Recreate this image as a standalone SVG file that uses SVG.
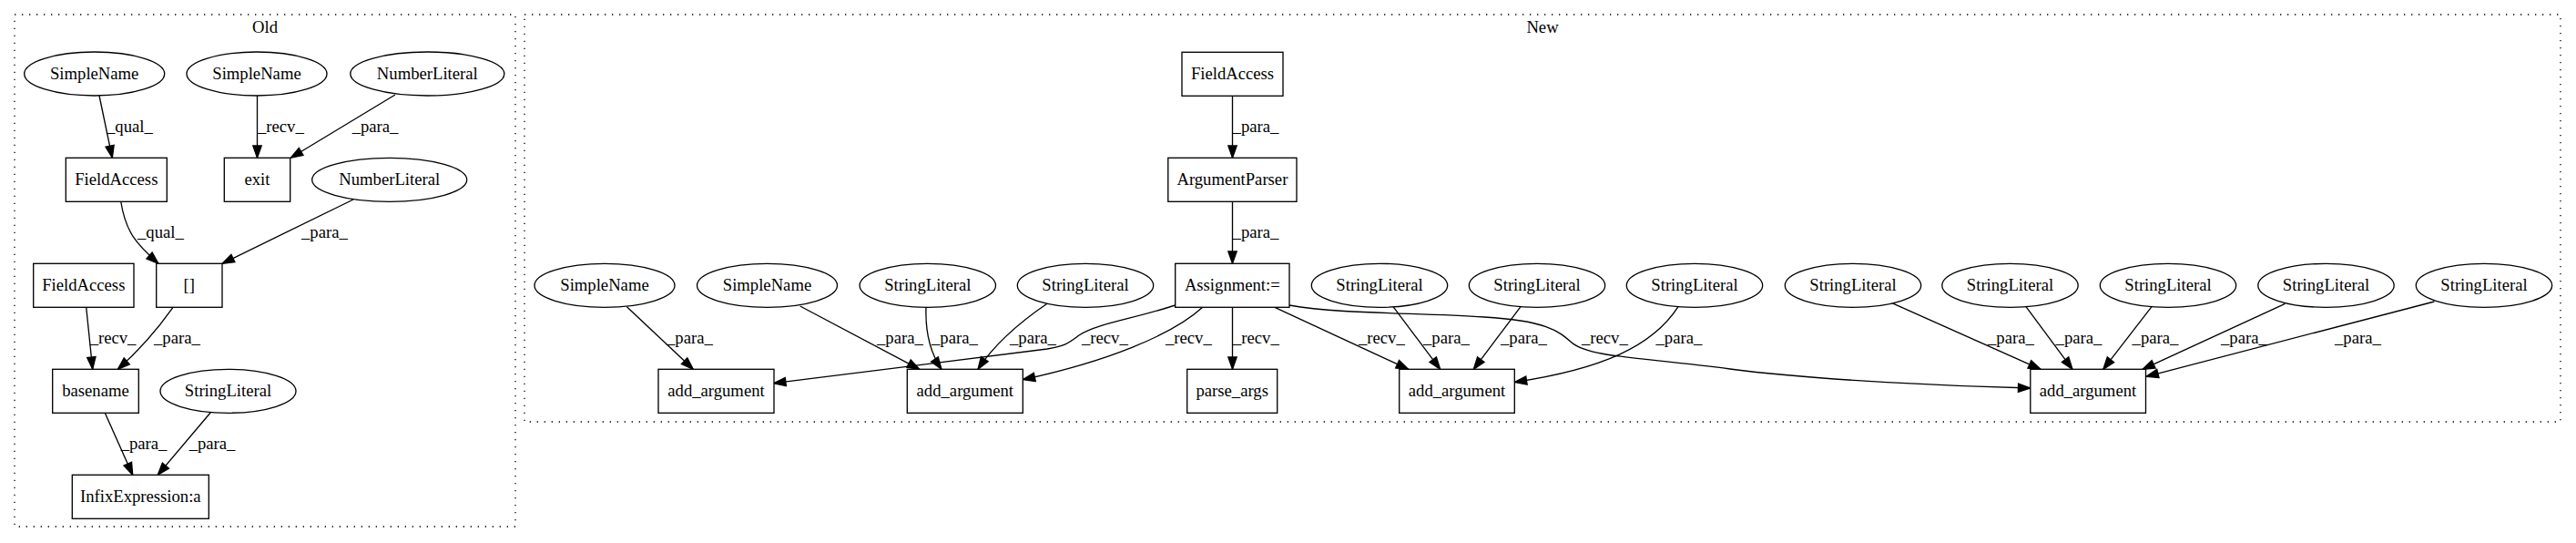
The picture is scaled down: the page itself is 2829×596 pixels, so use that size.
<svg xmlns="http://www.w3.org/2000/svg" width="2829" height="596" viewBox="0 0 2829 596">
<style>
text{font-family:"Liberation Serif","Times New Roman",serif;font-size:18.67px;fill:#000}
.n{text-anchor:middle}
.l{text-anchor:start}
.box{fill:#fff;stroke:#000;stroke-width:1.33}
.cl{fill:none;stroke:#000;stroke-width:1.33;stroke-dasharray:1.33,6.67}
.e{fill:none;stroke:#000;stroke-width:1.33;marker-end:url(#ah)}
</style>
<defs>
<marker id="ah" markerUnits="userSpaceOnUse" markerWidth="16" markerHeight="12" refX="13.3" refY="4.67" orient="auto" overflow="visible">
<path d="M0,0 L13.3,4.67 L0,9.33 Z" fill="#000" stroke="#000" stroke-width="1.33"/>
</marker>
</defs>
<rect x="0" y="0" width="2829" height="596" fill="#fff"/>
<g id="cluster-old">
<rect class="cl" x="16" y="16" width="550" height="562"/>
<text class="n" x="291" y="36">Old</text>
</g>
<g id="cluster-new">
<rect class="cl" x="576" y="16" width="2236" height="447"/>
<text class="n" x="1694" y="36">New</text>
</g>
<g id="connectors">
<path class="e" d="M109,105 L123.3,173.3"/>
<path class="e" d="M282.5,105 L282.5,173.3"/>
<path class="e" d="M434,104 L319.3,173.3"/>
<path class="e" d="M132.7,221 C138,255 150,268 174,289.3"/>
<path class="e" d="M388,219 L244,289.3"/>
<path class="e" d="M94.7,337.3 L101.7,405.3"/>
<path class="e" d="M190,337.3 C176,357 158,380 129.3,405.3"/>
<path class="e" d="M115.3,453.3 L145.7,521.3"/>
<path class="e" d="M231.3,452.7 L173.3,521.3"/>
<path class="e" d="M1353.5,105.3 L1353.5,173.3"/>
<path class="e" d="M1353.5,221.3 L1353.5,289.3"/>
<path class="e" d="M688.4,336.7 L761.3,405.3"/>
<path class="e" d="M878.7,336 L1009.8,405.3"/>
<path class="e" d="M1017,337 C1016,365 1022,388 1034,405.3"/>
<path class="e" d="M1150,333.3 C1118,355 1092,378 1074,405.3"/>
<path class="e" d="M1290.7,335 C1245,350 1205,355 1185,368 C1172,378 1168,380 1150,383 L849.6,420.7"/>
<path class="e" d="M1320.7,337.3 C1287,368 1215,397 1123.3,416.7"/>
<path class="e" d="M1353.5,337.3 L1353.5,405.3"/>
<path class="e" d="M1400,337.3 L1546.7,405.3"/>
<path class="e" d="M1416,335 C1470,345 1560,343 1630,348 C1700,352 1712,364 1726,376 C1745,392 1800,392 1900,405 C2000,418 2150,424 2229.8,426"/>
<path class="e" d="M1530,336.7 L1581.7,405.3"/>
<path class="e" d="M1670,336.7 L1618.3,405.3"/>
<path class="e" d="M1843,336.7 C1815,380 1760,405 1663.3,419.5"/>
<path class="e" d="M2077.3,332.3 L2241,405.3"/>
<path class="e" d="M2225,336.7 L2276,405.3"/>
<path class="e" d="M2363,336.7 L2309.8,405.3"/>
<path class="e" d="M2509.5,333.3 L2353,405.3"/>
<path class="e" d="M2673.4,331 L2357,413.3"/>
<text class="l" x="117" y="145">_qual_</text>
<text class="l" x="283" y="145">_recv_</text>
<text class="l" x="386.7" y="145">_para_</text>
<text class="l" x="151" y="261">_qual_</text>
<text class="l" x="331" y="261">_para_</text>
<text class="l" x="98.7" y="377">_recv_</text>
<text class="l" x="169" y="377">_para_</text>
<text class="l" x="132.7" y="493">_para_</text>
<text class="l" x="207.7" y="493">_para_</text>
<text class="l" x="1353.6" y="145">_para_</text>
<text class="l" x="1353.6" y="261">_para_</text>
<text class="l" x="732" y="377">_para_</text>
<text class="l" x="963" y="377">_para_</text>
<text class="l" x="1023" y="377">_para_</text>
<text class="l" x="1109" y="377">_para_</text>
<text class="l" x="1188" y="377">_recv_</text>
<text class="l" x="1280" y="377">_recv_</text>
<text class="l" x="1354" y="377">_recv_</text>
<text class="l" x="1492" y="377">_recv_</text>
<text class="l" x="1563" y="377">_para_</text>
<text class="l" x="1648" y="377">_para_</text>
<text class="l" x="1737" y="377">_recv_</text>
<text class="l" x="1818.5" y="377">_para_</text>
<text class="l" x="2183" y="377">_para_</text>
<text class="l" x="2257.6" y="377">_para_</text>
<text class="l" x="2341.6" y="377">_para_</text>
<text class="l" x="2439" y="377">_para_</text>
<text class="l" x="2564" y="377">_para_</text>
</g>
<g id="old-simplename-1"><ellipse class="box" cx="103.7" cy="81" rx="77" ry="24"/><text class="n" x="103.7" y="87">SimpleName</text></g>
<g id="old-simplename-2"><ellipse class="box" cx="282" cy="81" rx="77" ry="24"/><text class="n" x="282" y="87">SimpleName</text></g>
<g id="old-numberliteral-1"><ellipse class="box" cx="469.3" cy="81" rx="84.5" ry="24"/><text class="n" x="469.3" y="87">NumberLiteral</text></g>
<g id="old-fieldaccess-1"><rect class="box" x="72.3" y="173.3" width="111" height="48"/><text class="n" x="127.8" y="203">FieldAccess</text></g>
<g id="old-exit"><rect class="box" x="246.3" y="173.3" width="72.4" height="48"/><text class="n" x="282.5" y="203">exit</text></g>
<g id="old-numberliteral-2"><ellipse class="box" cx="427.7" cy="197.3" rx="85" ry="24"/><text class="n" x="427.7" y="203">NumberLiteral</text></g>
<g id="old-fieldaccess-2"><rect class="box" x="36.7" y="289.3" width="110.3" height="48"/><text class="n" x="91.8" y="319">FieldAccess</text></g>
<g id="old-index"><rect class="box" x="171.7" y="289.3" width="72.3" height="48"/><text class="n" x="207.8" y="319">[]</text></g>
<g id="old-basename"><rect class="box" x="57.7" y="405.3" width="94.6" height="48"/><text class="n" x="105" y="435">basename</text></g>
<g id="old-stringliteral"><ellipse class="box" cx="250.5" cy="429.3" rx="74.5" ry="24"/><text class="n" x="250.5" y="435">StringLiteral</text></g>
<g id="old-infix"><rect class="box" x="79.3" y="521.3" width="150" height="48"/><text class="n" x="154.3" y="551">InfixExpression:a</text></g>
<g id="new-fieldaccess"><rect class="box" x="1298" y="57.3" width="111" height="48"/><text class="n" x="1353.5" y="87">FieldAccess</text></g>
<g id="new-argumentparser"><rect class="box" x="1282.8" y="173.3" width="141.2" height="48"/><text class="n" x="1353.4" y="203">ArgumentParser</text></g>
<g id="new-assignment"><rect class="box" x="1290.7" y="289.3" width="125.3" height="48"/><text class="n" x="1353.3" y="319">Assignment:=</text></g>
<g id="new-parse-args"><rect class="box" x="1303.7" y="405.3" width="99" height="48"/><text class="n" x="1353.2" y="435">parse_args</text></g>
<g id="new-add-argument-1"><rect class="box" x="723" y="405.3" width="127" height="48"/><text class="n" x="786.5" y="435">add_argument</text></g>
<g id="new-add-argument-2"><rect class="box" x="996.3" y="405.3" width="127" height="48"/><text class="n" x="1059.8" y="435">add_argument</text></g>
<g id="new-add-argument-3"><rect class="box" x="1536.7" y="405.3" width="126.6" height="48"/><text class="n" x="1600" y="435">add_argument</text></g>
<g id="new-add-argument-4"><rect class="box" x="2229.8" y="405.3" width="126.7" height="48"/><text class="n" x="2293" y="435">add_argument</text></g>
<g id="new-simplename-1"><ellipse class="box" cx="664" cy="313.3" rx="77" ry="24"/><text class="n" x="664" y="319">SimpleName</text></g>
<g id="new-simplename-2"><ellipse class="box" cx="842.5" cy="313.3" rx="77" ry="24"/><text class="n" x="842.5" y="319">SimpleName</text></g>
<g id="new-stringliteral-1"><ellipse class="box" cx="1018.8" cy="313.3" rx="74.7" ry="24"/><text class="n" x="1018.8" y="319">StringLiteral</text></g>
<g id="new-stringliteral-2"><ellipse class="box" cx="1192" cy="313.3" rx="74.7" ry="24"/><text class="n" x="1192" y="319">StringLiteral</text></g>
<g id="new-stringliteral-3"><ellipse class="box" cx="1515" cy="313.3" rx="74.7" ry="24"/><text class="n" x="1515" y="319">StringLiteral</text></g>
<g id="new-stringliteral-4"><ellipse class="box" cx="1688" cy="313.3" rx="74.7" ry="24"/><text class="n" x="1688" y="319">StringLiteral</text></g>
<g id="new-stringliteral-5"><ellipse class="box" cx="1861" cy="313.3" rx="74.7" ry="24"/><text class="n" x="1861" y="319">StringLiteral</text></g>
<g id="new-stringliteral-6"><ellipse class="box" cx="2035" cy="313.3" rx="74.7" ry="24"/><text class="n" x="2035" y="319">StringLiteral</text></g>
<g id="new-stringliteral-7"><ellipse class="box" cx="2207.5" cy="313.3" rx="74.7" ry="24"/><text class="n" x="2207.5" y="319">StringLiteral</text></g>
<g id="new-stringliteral-8"><ellipse class="box" cx="2381" cy="313.3" rx="74.7" ry="24"/><text class="n" x="2381" y="319">StringLiteral</text></g>
<g id="new-stringliteral-9"><ellipse class="box" cx="2554.5" cy="313.3" rx="74.7" ry="24"/><text class="n" x="2554.5" y="319">StringLiteral</text></g>
<g id="new-stringliteral-10"><ellipse class="box" cx="2728" cy="313.3" rx="74.7" ry="24"/><text class="n" x="2728" y="319">StringLiteral</text></g>
</svg>
